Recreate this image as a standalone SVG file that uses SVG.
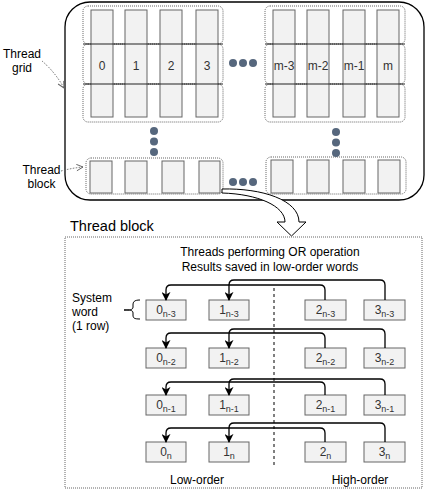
<svg xmlns="http://www.w3.org/2000/svg" width="426" height="492" viewBox="0 0 426 492">
<style>
  text { font-family: "Liberation Sans", Arial, sans-serif; fill: #000; }
  .lbl { font-size: 12px; }
  .cell { font-size: 12px; fill: #333; }
  .col { fill: #f2f2f2; stroke: #666; stroke-width: 1; }
  .row { fill: none; stroke: #666; stroke-width: 1; stroke-dasharray: 1 1; }
  .sep { stroke: #222; stroke-width: 1; }
  .dot { fill: #56677d; }
  .word { fill: #f2f2f2; stroke: #666; stroke-width: 1; }
  .wt { font-size: 12px; fill: #333; }
  .conn { fill: none; stroke: #000; stroke-width: 1.3; }
  .ptr { fill: none; stroke: #666; stroke-width: 1; stroke-dasharray: 1.5 1.5; }
</style>
<defs>
  <marker id="arr" viewBox="0 0 10 10" refX="9" refY="5" markerWidth="9" markerHeight="9" markerUnits="userSpaceOnUse" orient="auto">
    <path d="M0,0 L10,5 L0,10 L3,5 z" fill="#000"/>
  </marker>
  <marker id="open" viewBox="0 0 10 10" refX="9" refY="5" markerWidth="8" markerHeight="8" markerUnits="userSpaceOnUse" orient="auto">
    <path d="M1,1 L9,5 L1,9" fill="none" stroke="#666" stroke-width="1.2"/>
  </marker>
</defs>

<g id="thread-grid">
  <rect x="65" y="2" width="359" height="198" rx="25" fill="#fff" stroke="#000" stroke-width="1.3"/>
</g>

<g id="block-top-left">
  <rect class="row" x="83" y="6" width="140" height="38" rx="5"/>
  <rect class="row" x="83" y="44" width="140" height="40" rx="5"/>
  <rect class="row" x="83" y="84" width="140" height="38" rx="5"/>
  <rect class="col" x="91" y="10" width="22" height="107"/>
  <rect class="col" x="125" y="10" width="22" height="107"/>
  <rect class="col" x="160" y="10" width="22" height="107"/>
  <rect class="col" x="196" y="10" width="22" height="107"/>
  <line class="sep" x1="83" y1="44" x2="223" y2="44"/>
  <line class="sep" x1="83" y1="84" x2="223" y2="84"/>
  <text class="cell" x="102" y="70" text-anchor="middle">0</text>
  <text class="cell" x="136" y="70" text-anchor="middle">1</text>
  <text class="cell" x="171" y="70" text-anchor="middle">2</text>
  <text class="cell" x="207" y="70" text-anchor="middle">3</text>
</g>

<g id="block-top-right">
  <rect class="row" x="265" y="6" width="140" height="38" rx="5"/>
  <rect class="row" x="265" y="44" width="140" height="40" rx="5"/>
  <rect class="row" x="265" y="84" width="140" height="38" rx="5"/>
  <rect class="col" x="273" y="10" width="22" height="107"/>
  <rect class="col" x="307" y="10" width="22" height="107"/>
  <rect class="col" x="343" y="10" width="22" height="107"/>
  <rect class="col" x="377" y="10" width="22" height="107"/>
  <line class="sep" x1="265" y1="44" x2="405" y2="44"/>
  <line class="sep" x1="265" y1="84" x2="405" y2="84"/>
  <text class="cell" x="284" y="70" text-anchor="middle">m-3</text>
  <text class="cell" x="318" y="70" text-anchor="middle">m-2</text>
  <text class="cell" x="354" y="70" text-anchor="middle">m-1</text>
  <text class="cell" x="388" y="70" text-anchor="middle">m</text>
</g>

<g id="block-bottom-left">
  <rect class="row" x="86" y="158" width="137" height="36" rx="5"/>
  <rect class="col" x="90" y="161" width="22" height="32"/>
  <rect class="col" x="125" y="161" width="22" height="32"/>
  <rect class="col" x="162" y="161" width="22" height="32"/>
  <rect class="col" x="199" y="161" width="21" height="32"/>
</g>

<g id="block-bottom-right">
  <rect class="row" x="266" y="157" width="140" height="37" rx="5"/>
  <rect class="col" x="271" y="160" width="22" height="33"/>
  <rect class="col" x="307" y="160" width="22" height="33"/>
  <rect class="col" x="343" y="160" width="22" height="33"/>
  <rect class="col" x="378" y="160" width="22" height="33"/>
</g>

<g id="ellipses">
  <circle class="dot" cx="233" cy="63" r="4"/>
  <circle class="dot" cx="243" cy="63" r="4"/>
  <circle class="dot" cx="253" cy="63" r="4"/>
  <circle class="dot" cx="154" cy="131" r="4"/>
  <circle class="dot" cx="154" cy="141.5" r="4"/>
  <circle class="dot" cx="154" cy="152" r="4"/>
  <circle class="dot" cx="336" cy="132" r="4"/>
  <circle class="dot" cx="336" cy="142.5" r="4"/>
  <circle class="dot" cx="336" cy="153" r="4"/>
  <circle class="dot" cx="233" cy="182" r="4"/>
  <circle class="dot" cx="243" cy="182" r="4"/>
  <circle class="dot" cx="253" cy="182" r="4"/>
</g>

<g id="labels-top">
  <text class="lbl" x="22" y="58" text-anchor="middle">Thread</text>
  <text class="lbl" x="22" y="72" text-anchor="middle">grid</text>
  <text class="lbl" x="41.5" y="174" text-anchor="middle">Thread</text>
  <text class="lbl" x="41.5" y="188" text-anchor="middle">block</text>
</g>

<g id="pointers">
  <path class="ptr" d="M42,61 Q55,72 64,88" marker-end="url(#open)"/>
  <path class="ptr" d="M61,171 Q72,168 83,167" marker-end="url(#open)"/>
</g>

<g id="zoom-arrow">
  <path d="M222,189 C262,188 299,200 299,222 L306,222 L291.5,236 L277,222 L285,222 C285,206 258,194 222,193 Z" fill="#fff" stroke="#000" stroke-width="1"/>
</g>

<g id="thread-block">
  <text x="70" y="231" style="font-size:14.5px">Thread block</text>
  <rect x="65" y="237" width="357" height="251" fill="none" stroke="#666" stroke-width="1" stroke-dasharray="1 1"/>
  <text class="lbl" x="270" y="256" text-anchor="middle">Threads performing OR operation</text>
  <text class="lbl" x="270" y="271" text-anchor="middle">Results saved in low-order words</text>
  <text class="lbl" x="72" y="302">System</text>
  <text class="lbl" x="72" y="316">word</text>
  <text class="lbl" x="72" y="330">(1 row)</text>
  <path d="M140,300 C134,300 133,302 133,305 L133,307 C133,310 130,310 124,310 C130,310 133,310 133,313 L133,315 C133,318 134,319 140,319" fill="none" stroke="#000" stroke-width="1"/>
  <line x1="274" y1="288" x2="274" y2="468" stroke="#000" stroke-width="1" stroke-dasharray="3 3"/>
  <text class="lbl" x="197" y="484" text-anchor="middle">Low-order</text>
  <text class="lbl" x="360" y="484" text-anchor="middle">High-order</text>
</g>

<g id="words">
  <g id="row-n-3">
    <rect class="word" x="146" y="300" width="40" height="20"/>
    <rect class="word" x="209" y="300" width="40" height="20"/>
    <rect class="word" x="305" y="300" width="41" height="20"/>
    <rect class="word" x="364" y="300" width="41" height="20"/>
    <text class="wt" x="166" y="314" text-anchor="middle">0<tspan font-size="9" dy="3">n-3</tspan></text>
    <text class="wt" x="229" y="314" text-anchor="middle">1<tspan font-size="9" dy="3">n-3</tspan></text>
    <text class="wt" x="325.5" y="314" text-anchor="middle">2<tspan font-size="9" dy="3">n-3</tspan></text>
    <text class="wt" x="384.5" y="314" text-anchor="middle">3<tspan font-size="9" dy="3">n-3</tspan></text>
  </g>
  <g id="row-n-2">
    <rect class="word" x="146" y="348" width="40" height="20"/>
    <rect class="word" x="209" y="348" width="40" height="20"/>
    <rect class="word" x="305" y="348" width="41" height="20"/>
    <rect class="word" x="364" y="348" width="41" height="20"/>
    <text class="wt" x="166" y="362" text-anchor="middle">0<tspan font-size="9" dy="3">n-2</tspan></text>
    <text class="wt" x="229" y="362" text-anchor="middle">1<tspan font-size="9" dy="3">n-2</tspan></text>
    <text class="wt" x="325.5" y="362" text-anchor="middle">2<tspan font-size="9" dy="3">n-2</tspan></text>
    <text class="wt" x="384.5" y="362" text-anchor="middle">3<tspan font-size="9" dy="3">n-2</tspan></text>
  </g>
  <g id="row-n-1">
    <rect class="word" x="146" y="395" width="40" height="20"/>
    <rect class="word" x="209" y="395" width="40" height="20"/>
    <rect class="word" x="305" y="395" width="41" height="20"/>
    <rect class="word" x="364" y="395" width="41" height="20"/>
    <text class="wt" x="166" y="409" text-anchor="middle">0<tspan font-size="9" dy="3">n-1</tspan></text>
    <text class="wt" x="229" y="409" text-anchor="middle">1<tspan font-size="9" dy="3">n-1</tspan></text>
    <text class="wt" x="325.5" y="409" text-anchor="middle">2<tspan font-size="9" dy="3">n-1</tspan></text>
    <text class="wt" x="384.5" y="409" text-anchor="middle">3<tspan font-size="9" dy="3">n-1</tspan></text>
  </g>
  <g id="row-n">
    <rect class="word" x="146" y="442" width="40" height="20"/>
    <rect class="word" x="209" y="442" width="40" height="20"/>
    <rect class="word" x="305" y="442" width="41" height="20"/>
    <rect class="word" x="364" y="442" width="41" height="20"/>
    <text class="wt" x="166" y="456" text-anchor="middle">0<tspan font-size="9" dy="3">n</tspan></text>
    <text class="wt" x="229" y="456" text-anchor="middle">1<tspan font-size="9" dy="3">n</tspan></text>
    <text class="wt" x="325.5" y="456" text-anchor="middle">2<tspan font-size="9" dy="3">n</tspan></text>
    <text class="wt" x="384.5" y="456" text-anchor="middle">3<tspan font-size="9" dy="3">n</tspan></text>
  </g>
</g>

<g id="connectors">
  <path class="conn" d="M325,300 V290 Q325,285 320,285 H171 Q166,285 166,290 V300" marker-end="url(#arr)"/>
  <path class="conn" d="M385,300 V285 Q385,280 380,280 H234 Q229,280 229,285 V300" marker-end="url(#arr)"/>
  <path class="conn" d="M325,348 V338 Q325,333 320,333 H171 Q166,333 166,338 V348" marker-end="url(#arr)"/>
  <path class="conn" d="M385,348 V334 Q385,329 380,329 H234 Q229,329 229,334 V348" marker-end="url(#arr)"/>
  <path class="conn" d="M325,395 V387 Q325,382 320,382 H171 Q166,382 166,387 V395" marker-end="url(#arr)"/>
  <path class="conn" d="M385,395 V384 Q385,379 380,379 H234 Q229,379 229,384 V395" marker-end="url(#arr)"/>
  <path class="conn" d="M325,442 V433 Q325,428 320,428 H171 Q166,428 166,433 V442" marker-end="url(#arr)"/>
  <path class="conn" d="M385,442 V428 Q385,423 380,423 H234 Q229,423 229,428 V442" marker-end="url(#arr)"/>
</g>
</svg>
